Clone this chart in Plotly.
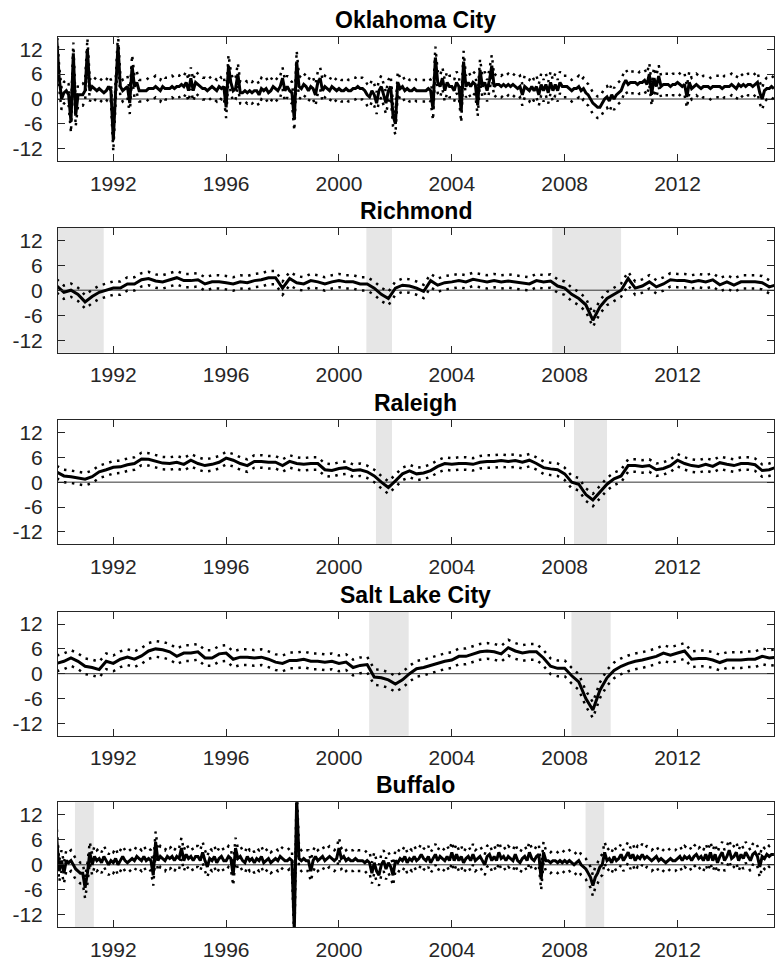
import plotly.graph_objects as go

# ---------------- data ----------------
city_names = ["Oklahoma City", "Richmond", "Raleigh", "Salt Lake City", "Buffalo"]

# monthly series, Jan 1990 .. Jun 2015
okc_values = (
    [14, 5, 0, 1.5, 2, 1, -5.5, 11, -4, 1, 1, 1]            # 1990
    + [2, 12, 2, 3, 2.5, 2, 2.5, 2, 1.5, 2, 3, 2]           # 1991
    + [-10, 2, 13, 3, 2, 2.5, 3, -1, 8, 3, 4, 2]            # 1992
    + [2, 2, 2, 2.5, 2.5, 2.5, 3, 2.5, 2, 3, 2.5, 2.5]      # 1993
    + [2.5, 3, 2.5, 3, 3, 3.5, 3, 4, 2, 5, 2, 4]            # 1994
    + [3.5, 3, 2.5, 2.5, 2, 2.5, 3, 2.5, 2, 3, 2.5, 3]      # 1995
    + [-2, 8, 4, 2, 2.5, 6, 1.5, 1.5, 2, 1.5, 2, 1.5]       # 1996
    + [2, 2, 1, 2.5, 2, 2.5, 1.5, 2, 3, 2.5, 2, 3]          # 1997
    + [5, 2, 3, 2, 1.5, -5, 9, 3, 2.5, 3.5, 3, 2]           # 1998
    + [3, 2.5, 1, 4, 5, 2, 3, 2.5, 2, 3, 2.5, 2]            # 1999
    + [2.5, 2, 2, 2.5, 2, 2, 2.5, 2.5, 3, 2.5, 2.5, 2]      # 2000
    + [1, 0.5, 2, 1, -1, 2, 3, 1, -1, 2, 3, -4]             # 2001
    + [-6, 4, 2.5, 3, 2, 2.5, 2, 2, 2.5, 2, 2, 2]           # 2002
    + [2, 2, 2.5, 2, -2.5, 10, 4, 3, 5, 2, 4, 3]            # 2003
    + [3, 2, 4, 3, -3, 9, 3, 4, 3, 4, 3.5, -1.5]            # 2004
    + [7, 3, 4, 2, 4.5, 8, 3, 3.5, 3.5, 3, 3.5, 3]          # 2005
    + [3.5, 3, 3.5, 3, 2.5, 3, 1, 3, 2.5, 2, 3, 2]          # 2006
    + [3, 1, 3.5, 2, 3.5, 1.5, 4, 2, 3.5, 2, 4, 3]          # 2007
    + [3, 3, 2.5, 2, 2.5, 2.5, 3, 2, 2.5, 1.5, 1, 0]        # 2008
    + [-1, -1.5, -2, -2, -1, 0, 0.5, -0.5, 1, 0, 1, 1.5]    # 2009
    + [2, 3.5, 4.5, 3.5, 4, 4, 4, 3.5, 4, 4, 4.5, 3.5]      # 2010
    + [6, 1, 5, 3, 5.5, 3, 3.5, 3.5, 3.5, 3, 3.5, 3.5]      # 2011
    + [4, 3.5, 3, 3.5, 0.5, 4, 2.5, 3, 3.5, 3, 2.5, 3]      # 2012
    + [3, 3, 2.5, 3, 3, 3, 3, 2.5, 3, 3, 3, 3.5]            # 2013
    + [3, 2.5, 3.5, 3, 3.5, 3, 3.5, 3.5, 3, 3.5, 4, 1.5]    # 2014
    + [0, 2, 2.5, 2.5, 3, 2.5]                              # 2015
)

buffalo_values = (
    [6, -1.5, 1, -2, 1, 0.5, 1, 0, -1, -1.5, -2, -2]        # 1990
    + [-5.5, -2, 3, 0, 2, 1, 1.5, 0.5, 2, 1, 0, 1]          # 1991
    + [0.5, 1.5, 0, 1, 2, 1, 0.5, 1, 1.5, 1, 2, 1.5]        # 1992
    + [1, 2, 1, 1.5, 1, -2.5, 5.5, 1, 2, 1.5, 1, 2]         # 1993
    + [1.5, 2, 1, 2, 1.5, 4, 1, 2.5, 1.5, 2, 1, 2]          # 1994
    + [2, 1, 3, 1, -0.5, 1.5, 1, 2, 0.5, 1.5, 2, 1]         # 1995
    + [1, 2, 1.5, -2.5, 4, 1.5, 2, 1, 0.5, 2, 1, 1.5]       # 1996
    + [0.5, 1.5, 1, 2, 0.5, 1, 1.5, 0.5, 1, 1.5, 1, 2]      # 1997
    + [1.5, 1, 1, 1.5, 1, -16, 16, 1.5, 1, 1.5, 1, 1]       # 1998
    + [-1.5, 1, 2, 1, 1.5, 2, 1, 1.5, 2, 1.5, 1, 1.5]       # 1999
    + [4, 1.5, 2, 1, 1.5, 1, 1, 1.5, 1, 1, 1, 0.5]          # 2000
    + [1, 0.5, -2, 0.5, -1.5, -2.5, 0, 1, -1, 0.5, -0.5, -2.5]  # 2001
    + [1, 0.5, 1.5, 1, 2, 0.5, 1.5, 1, 2, 1, 1.5, 2.5]      # 2002
    + [1.5, 1, 2, 0.5, 1.5, 2.5, 1, 2, 1.5, 1, 2, 1]        # 2003
    + [3, 1, 2.5, 1, 2, 0.5, 1.5, 2, 1, 2.5, 1, 1.5]        # 2004
    + [2, 1, 0, 2, 2.5, 1, 2, 1, 3, 1.5, 2, 1]              # 2005
    + [2, 1.5, 1, 2.5, 1, 0.5, 1.5, 2, 1, 3, 1.5, 1]        # 2006
    + [2, 2.5, -3.5, 3, 1, 1, 0.5, 1, 1, 0.5, 1, 0.5]       # 2007
    + [1, 0.5, 1, 0.5, 0, 0.5, 1, 0, -0.5, -1, -2, -3]      # 2008
    + [-5, -3, -2, -0.5, 0, 3, 1, 1.5, 0.5, 2, 1, 1.5]      # 2009
    + [2.5, 1, 2, 3, 1.5, 2.5, 1, 2, 1.5, 2.5, 1.5, 2]      # 2010
    + [1.5, 1, 1.5, 2, 1, 1.5, 1, 0.5, 1, 1.5, 1, 1]        # 2011
    + [1.5, 2, 1, 2, 1.5, 2, 1, 2, 2.5, 1.5, 2, 1]          # 2012
    + [2.5, 1, 3, 1, 2.5, 0.5, 2, 3, 1, 2, 3.5, 1.5]        # 2013
    + [2, 3, 1, 2.5, 1.5, 3, 2, 1, 2.5, 3, 2, -0.5]         # 2014
    + [2, 1.5, 2.5, 2, 2.5, 2.5]                            # 2015
)

# quarterly series, 1990Q1 .. 2015Q3
richmond_values = [
    1, -0.5, 0, -1,  -2.8, -1.5, -0.5, 0,  0.5, 0.5, 1.5, 1.5,
    2.5, 2.8, 2.2, 2,  2.5, 3, 2.3, 2.3,  2.5, 1.5, 2, 2,
    1.8, 1.5, 2, 1.8,  2.3, 2.5, 3, 3,  0.5, 2.8, 1.8, 1.5,
    2.3, 2, 1.5, 2,  2.3, 2, 2, 1.5,  1.5, 0.5, -1, -2,
    0.5, 1.2, 1, 0.5,  -0.3, 2.3, 1.2, 1.8,  2, 2.3, 2, 2.6,
    2.3, 2, 2.3, 2,  2.2, 2, 1.8, 1.5,  2.3, 2, 2.2, 1,
    0.5, -1, -2, -3.5,  -7.2, -4, -2, -1,  0, 2.8, 0.5, 1,
    2, 0.8, 1.5, 2.5,  2.3, 2.3, 2, 2.3,  2, 2.5, 1.3, 2,
    1.2, 2, 2, 2,  1.8, 0.8, 1.3,
]

raleigh_values = [
    2.4, 1.5, 1.3, 1,  0.7, 1.3, 2.5, 3,  3.6, 3.7, 4.2, 4.5,
    5.6, 5.5, 5, 4.6,  4.5, 4.8, 4.3, 5.3,  4.5, 4, 4.3, 4.8,
    5.8, 5.3, 4.5, 4,  5, 5, 4.8, 4.8,  4, 5, 4.5, 4.3,
    4.5, 4.5, 3, 2.8,  3.3, 3.5, 2.8, 3,  2.5, 1.5, 0, -1.3,
    0.3, 2, 2.7, 2,  2.2, 2.8, 3.8, 4.5,  4.3, 4.5, 4.5, 4.3,
    4.8, 5, 5, 5.2,  5, 5.2, 4.8, 5.3,  4.5, 3.5, 3.2, 3,
    2, 0, -0.5, -3,  -4.3, -2.5, -0.5, 0.8,  1.5, 4, 4, 3.8,
    4, 3, 3.3, 4,  5.3, 4.5, 4, 3.8,  4.3, 3.8, 4.7, 4.3,
    4, 4.5, 4.5, 4.2,  2.8, 3, 3.6,
]

slc_values = [
    2.5, 3, 3.8, 3,  1.8, 1.5, 1, 3,  2.5, 3.5, 4, 3.5,
    4.3, 5.5, 6, 5.8,  5.3, 4.2, 5, 5,  5.3, 3.8, 3.8, 4.8,
    5, 3.5, 4, 4,  3.8, 4, 3.5, 2.8,  2.5, 3.2, 3.2, 3.5,
    3, 3, 2.8, 3,  2.5, 2.8, 1.5, 2,  2.2, -0.8, -1, -1.5,
    -2.5, -1.5, 0, 1.2,  1.5, 2, 2.5, 3,  3.3, 4.2, 4.2, 4.7,
    5.3, 5.5, 5.3, 4.8,  6.3, 5.5, 5, 5.3,  5.3, 3.8, 1.8, 1.3,
    1.3, -0.5, -2, -6,  -8.8, -4, -1, 0.8,  1.8, 2.5, 3, 3.3,
    3.8, 4.2, 5, 4.5,  5, 5.5, 3.5, 3.7,  3.7, 3.3, 2.7, 3.3,
    3.3, 3.3, 3.5, 3.5,  4.2, 3.8, 4,
]

# half-width of the dotted confidence band (per city)
band_halfwidth = {
    "Oklahoma City": 2.6,
    "Richmond": 1.6,
    "Raleigh": 1.5,
    "Salt Lake City": 1.9,
    "Buffalo": 2.5,
}

# shaded recession periods (decimal years)
recessions = {
    "Oklahoma City": [],
    "Richmond": [(1990.0, 1991.66), (2000.97, 2001.88), (2007.56, 2010.0)],
    "Raleigh": [(2001.31, 2001.88), (2008.33, 2009.5)],
    "Salt Lake City": [(2001.07, 2002.47), (2008.24, 2009.63)],
    "Buffalo": [(1990.64, 1991.31), (2008.74, 2009.4)],
}

x_tick_years = [1992, 1996, 2000, 2004, 2008, 2012]
y_tick_values = [-12, -6, 0, 6, 12]
series_start_year = 1990.0

series = [
    ("Oklahoma City", okc_values, 12),
    ("Richmond", richmond_values, 4),
    ("Raleigh", raleigh_values, 4),
    ("Salt Lake City", slc_values, 4),
    ("Buffalo", buffalo_values, 12),
]

# ---------------- figure ----------------
W, H = 778, 964
plot_left, plot_right = 58, 774
panel_px = [(36.7, 161.3), (227.7, 352.7), (420.0, 544.3), (611.7, 735.7), (802.3, 927.3)]
x_range = [1990.04, 2015.42]
axis_color = "#262626"
font_family = "Liberation Sans, Arial, Helvetica, sans-serif"

fig = go.Figure()
layout = dict(
    width=W, height=H,
    margin=dict(l=0, r=0, t=0, b=0),
    paper_bgcolor="white", plot_bgcolor="white",
    showlegend=False,
    template="none",
    font=dict(family=font_family, color=axis_color, size=21),
)
shapes = []
annotations = []

for k, (name, vals, per_year) in enumerate(series):
    suffix = "" if k == 0 else str(k + 1)
    xa, ya = "x" + suffix, "y" + suffix
    xs = [series_start_year + i / per_year for i in range(len(vals))]
    hw = band_halfwidth[name]
    upper = [v + hw for v in vals]
    lower = [v - hw for v in vals]

    for band in (upper, lower):
        fig.add_trace(go.Scatter(
            x=xs, y=band, mode="lines", xaxis=xa, yaxis=ya,
            line=dict(color="black", width=2.5, dash="2.5px,5.5px"),
            hoverinfo="skip"))
    fig.add_trace(go.Scatter(
        x=xs, y=vals, mode="lines", xaxis=xa, yaxis=ya,
        line=dict(color="black", width=3), name=name))

    top, bot = panel_px[k]
    ydom = [1 - bot / H, 1 - top / H]
    xdom = [plot_left / W, plot_right / W]

    layout["xaxis" + suffix] = dict(
        domain=xdom, range=x_range, anchor=ya,
        tickmode="array", tickvals=x_tick_years,
        ticktext=[str(t) for t in x_tick_years],
        ticks="inside", ticklen=7, tickwidth=1, tickcolor=axis_color,
        showline=True, linecolor=axis_color, linewidth=1, mirror="ticks",
        showgrid=False, zeroline=False, automargin=False,
        tickfont=dict(size=21, color=axis_color, family=font_family),
        ticklabelstandoff=3,
    )
    layout["yaxis" + suffix] = dict(
        domain=ydom, range=[-15, 15], anchor=xa,
        tickmode="array", tickvals=y_tick_values,
        ticktext=[str(t) for t in y_tick_values],
        ticks="inside", ticklen=7, tickwidth=1, tickcolor=axis_color,
        showline=True, linecolor=axis_color, linewidth=1, mirror="ticks",
        showgrid=False, zeroline=False, automargin=False,
        tickfont=dict(size=21, color=axis_color, family=font_family),
        ticklabelstandoff=10,
    )

    for (r0, r1) in recessions[name]:
        shapes.append(dict(
            type="rect", xref=xa, yref=ya + " domain",
            x0=r0, x1=r1, y0=0, y1=1,
            fillcolor="#e6e6e6", line=dict(width=0), layer="below"))
    shapes.append(dict(
        type="line", xref=xa + " domain", yref=ya,
        x0=0, x1=1, y0=0, y1=0,
        line=dict(color="#333333", width=1), layer="below"))

    annotations.append(dict(
        text="<b>%s</b>" % name, xref="paper", yref="paper",
        x=(xdom[0] + xdom[1]) / 2, y=ydom[1], yshift=17,
        xanchor="center", yanchor="middle", showarrow=False,
        font=dict(size=23, color="black", family=font_family)))

layout["shapes"] = shapes
layout["annotations"] = annotations
fig.update_layout(**layout)

fig.write_html("out.html")
